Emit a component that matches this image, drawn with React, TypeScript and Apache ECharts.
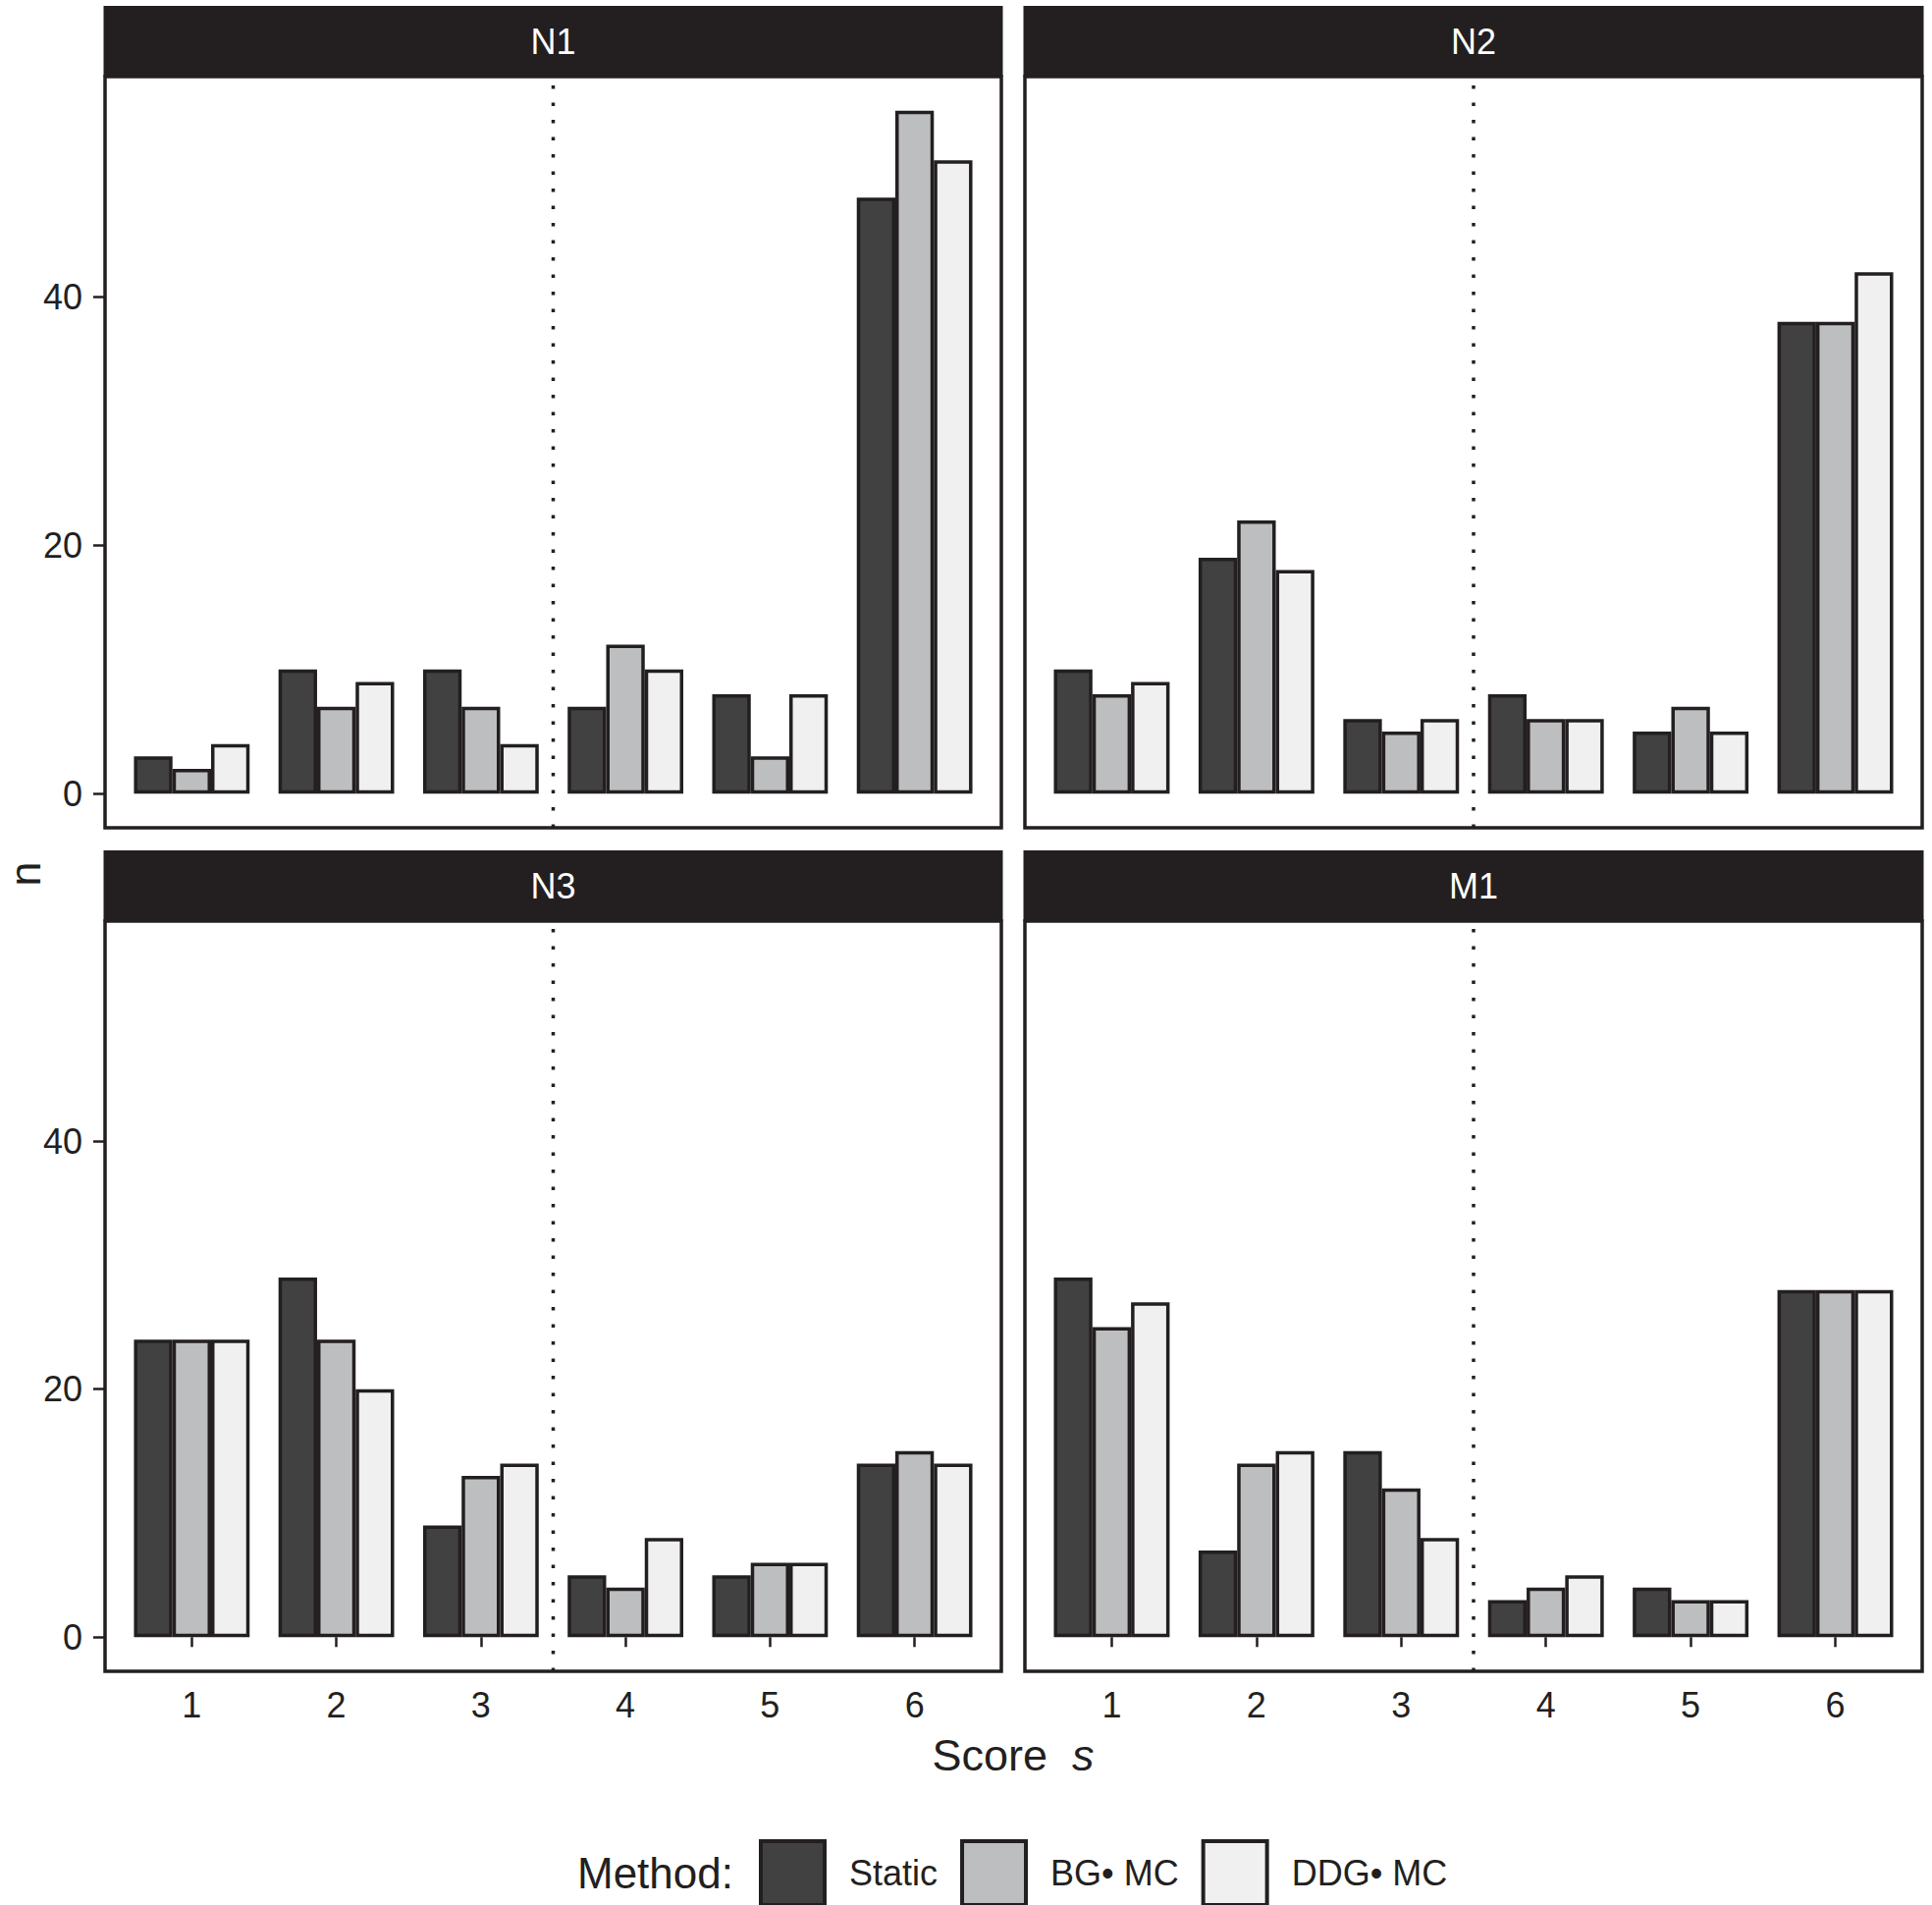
import React, { useEffect, useRef } from 'react';
import * as echarts from 'echarts';

// ---------- data ----------
const categories = ['1', '2', '3', '4', '5', '6'];
const methods = ['Static', 'BG\u2022 MC', 'DDG\u2022 MC'];
const panelNames = ['N1', 'N2', 'N3', 'M1'];

const n1Static = [3, 10, 10, 7, 8, 48];
const n1BG = [2, 7, 7, 12, 3, 55];
const n1DDG = [4, 9, 4, 10, 8, 51];

const n2Static = [10, 19, 6, 8, 5, 38];
const n2BG = [8, 22, 5, 6, 7, 38];
const n2DDG = [9, 18, 6, 6, 5, 42];

const n3Static = [24, 29, 9, 5, 5, 14];
const n3BG = [24, 24, 13, 4, 6, 15];
const n3DDG = [24, 20, 14, 8, 6, 14];

const m1Static = [29, 7, 15, 3, 4, 28];
const m1BG = [25, 14, 12, 4, 3, 28];
const m1DDG = [27, 15, 8, 5, 3, 28];

const panelData = [
  [n1Static, n1BG, n1DDG],
  [n2Static, n2BG, n2DDG],
  [n3Static, n3BG, n3DDG],
  [m1Static, m1BG, m1DDG],
];

const yTicks = [0, 20, 40];
const splitScore = 3.5;
const yMin = -2.75;
const yMax = 57.75;

// ---------- style ----------
const ink = '#231f20';
const fills = ['#414141', '#bdbebf', '#f0f0f0'];
const font = '"Liberation Sans", Arial, Helvetica, sans-serif';

const panelBoxes = [
  { x: 107, y: 78, w: 913, h: 765 },
  { x: 1044, y: 78, w: 914, h: 765 },
  { x: 107, y: 938, w: 913, h: 764 },
  { x: 1044, y: 938, w: 914, h: 764 },
];
const stripH = 72;

function buildOption() {
  const grid: any[] = [];
  const xAxis: any[] = [];
  const yAxis: any[] = [];
  const series: any[] = [];
  const graphic: any[] = [];

  panelBoxes.forEach((b, i) => {
    const inset = (b.w * 0.1) / 6.2;
    const isBottom = i >= 2;
    const isLeft = i % 2 === 0;
    grid.push({ left: b.x + inset, top: b.y, width: b.w - 2 * inset, height: b.h, containLabel: false });
    xAxis.push({
      type: 'category',
      gridIndex: i,
      data: categories,
      position: 'bottom',
      axisLine: { show: false },
      axisTick: { show: isBottom, alignWithLabel: true, length: 10, lineStyle: { color: ink, width: 2.5 } },
      axisLabel: { show: isBottom, fontSize: 36, fontFamily: font, color: ink, margin: 16 },
      splitLine: { show: false },
    });
    xAxis.push({ type: 'value', gridIndex: i, min: 0.5, max: 6.5, show: false });
    yAxis.push({
      type: 'value',
      gridIndex: i,
      min: yMin,
      max: yMax,
      offset: inset,
      axisLine: { show: false },
      splitLine: { show: false },
      axisTick: { show: isLeft, length: 12, customValues: yTicks, lineStyle: { color: ink, width: 2.5 } },
      axisLabel: { show: isLeft, customValues: yTicks, fontSize: 36, fontFamily: font, color: ink, margin: 23 },
    });
    methods.forEach((m, k) => {
      series.push({
        type: 'bar',
        name: m,
        xAxisIndex: 2 * i,
        yAxisIndex: i,
        data: panelData[i][k],
        barGap: '0%',
        barCategoryGap: '20%',
        itemStyle: { color: fills[k], borderColor: ink, borderWidth: 3.5 },
        emphasis: { disabled: true },
      });
    });
    series.push({
      type: 'line',
      name: 'split',
      xAxisIndex: 2 * i + 1,
      yAxisIndex: i,
      data: [[splitScore, yMin], [splitScore, yMax]],
      symbol: 'none',
      silent: true,
      lineStyle: { color: ink, width: 3.5, type: [3.5, 14], cap: 'butt' },
      z: 5,
    });

    // strip
    graphic.push({
      type: 'rect',
      shape: { x: b.x - 1.5, y: b.y - stripH, width: b.w + 3, height: stripH },
      style: { fill: ink },
      z: 100,
    });
    graphic.push({
      type: 'text',
      x: b.x + b.w / 2,
      y: b.y - stripH / 2,
      style: { text: panelNames[i], fontSize: 36, fontFamily: font, fill: '#ffffff', align: 'center', verticalAlign: 'middle' },
      z: 101,
    });
    // border
    graphic.push({
      type: 'rect',
      shape: { x: b.x, y: b.y, width: b.w, height: b.h },
      style: { fill: 'none', stroke: ink, lineWidth: 3.5 },
      z: 100,
    });
  });

  graphic.push({
    type: 'text',
    x: 1032,
    y: 1787,
    style: {
      text: 'Score  {i|s}',
      fontSize: 45,
      fontFamily: font,
      fill: ink,
      align: 'center',
      verticalAlign: 'middle',
      rich: { i: { fontStyle: 'italic', fontSize: 45, fontFamily: font, fill: ink } },
    },
  });
  graphic.push({
    type: 'text',
    x: 25,
    y: 890,
    rotation: Math.PI / 2,
    style: { text: 'n', fontSize: 45, fontFamily: font, fill: ink, align: 'center', verticalAlign: 'middle' },
  });
  graphic.push({
    type: 'text',
    x: 588,
    y: 1907,
    style: { text: 'Method:', fontSize: 44, fontFamily: font, fill: ink, align: 'left', verticalAlign: 'middle' },
  });

  return {
    animation: false,
    backgroundColor: '#ffffff',
    grid,
    xAxis,
    yAxis,
    series,
    graphic,
    legend: {
      data: methods,
      left: 773,
      top: 1873,
      padding: 0,
      itemWidth: 65,
      itemHeight: 65,
      itemGap: 23,
      icon: 'rect',
      selectedMode: false,
      itemStyle: { borderColor: ink, borderWidth: 4 },
      textStyle: { fontSize: 36, fontFamily: font, color: ink, padding: [0, 0, 0, 20] },
    },
  };
}

export default function App() {
  const ref = useRef<HTMLDivElement>(null);
  useEffect(() => {
    document.body.style.margin = '0';
    if (!ref.current) return;
    const chart = echarts.init(ref.current, null, { renderer: 'svg' });
    chart.setOption(buildOption() as any);
    return () => chart.dispose();
  }, []);
  return <div ref={ref} style={{ position: 'fixed', left: 0, top: 0, width: 1968, height: 1940, background: '#fff' }} />;
}
